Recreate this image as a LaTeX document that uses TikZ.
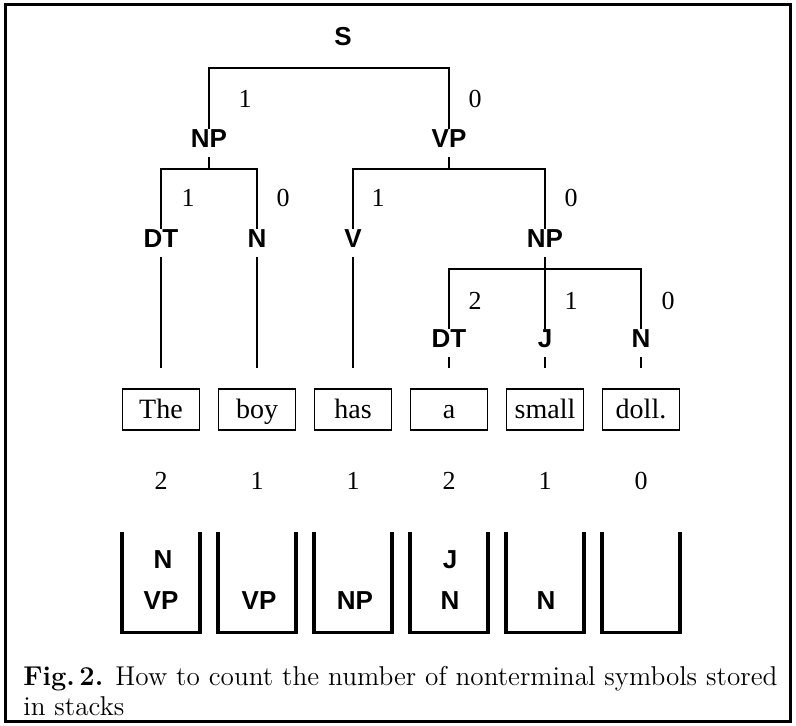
\documentclass[tikz,border=0pt]{standalone}
\usepackage{fontspec}
\newfontfamily\catfont{Liberation Sans}
\newfontfamily\wordfont{Liberation Serif}

\begin{document}
\begin{tikzpicture}[x=0.5pt,y=-0.5pt,
    cat/.style={font=\catfont\bfseries\fontsize{13}{15}\selectfont, inner sep=0pt, text height=9pt, text depth=5pt, anchor=base},
    cnt/.style={font=\wordfont\fontsize{13}{15}\selectfont, inner sep=0pt},
    word/.style={draw, line width=0.75pt, minimum width=38.5pt, minimum height=20.5pt, inner sep=0pt, text height=10.5pt, text depth=2pt, font=\wordfont\fontsize{14}{16}\selectfont},
    stack/.style={minimum width=38.5pt, minimum height=50pt, inner sep=0pt},
    branch/.style={line width=0.75pt},
    stk/.style={line width=1.75pt}]

    \useasboundingbox (0,0) rectangle (796,725);
    \draw[line width=1.5pt] (5,4) rectangle (790.5,721.5);

    \node[cat] (s) at (343,45) {S};
    \node[cat] (np1) at (209,147) {NP};
    \node[cat] (vp1) at (449,147) {VP};
    \node[cat] (dt1) at (161,247) {DT};
    \node[cat] (n1) at (257,247) {N};
    \node[cat] (v1) at (353,247) {V};
    \node[cat] (np2) at (545,247) {NP};
    \node[cat] (dt2) at (449,347) {DT};
    \node[cat] (j2) at (545,347) {J};
    \node[cat] (n2) at (641,347) {N};

    \coordinate (b1) at (330,68);
    \coordinate (b2) at (209,169);
    \coordinate (b3) at (449,169);
    \coordinate (b4) at (545,269);

    \draw[branch] (np1.north) |- (b1) -| (vp1.north);
    \draw[branch] (np1.south) -- (b2);
    \draw[branch] (dt1.north) |- (b2) -| (n1.north);
    \draw[branch] (vp1.south) -- (b3);
    \draw[branch] (v1.north) |- (b3) -| (np2.north);
    \draw[branch] (np2.south) -- (j2.north);
    \draw[branch] (dt2.north) |- (b4) -| (n2.north);

    \node[cnt] (k1) at (245,99) {1};
    \node[cnt] (k2) at (475,99) {0};
    \node[cnt] (k3) at (188,198) {1};
    \node[cnt] (k4) at (283,198) {0};
    \node[cnt] (k5) at (378,198) {1};
    \node[cnt] (k6) at (571,198) {0};
    \node[cnt] (k7) at (475,301) {2};
    \node[cnt] (k8) at (571,301) {1};
    \node[cnt] (k9) at (668,301) {0};

    \foreach \w/\x [count=\i] in {The/161,boy/257,has/353,a/449,small/545,doll./641}{
        \node[word] (w\i) at (\x,409.5) {\w};
    }

    \foreach \d/\x [count=\i] in {2/161,1/257,1/353,2/449,1/545,0/641}{
        \node[cnt] (c\i) at (\x,480.5) {\d};
    }

    \draw[branch, shorten >=10pt] (dt1.south) -- (w1.north);
    \draw[branch, shorten >=10pt] (n1.south) -- (w2.north);
    \draw[branch, shorten >=10pt] (v1.south) -- (w3.north);
    \draw[branch, shorten >=10pt] (dt2.south) -- (w4.north);
    \draw[branch, shorten >=10pt] (j2.south) -- (w5.north);
    \draw[branch, shorten >=10pt] (n2.south) -- (w6.north);

    \foreach \x [count=\i] in {161,257,353,449,545,641}{
        \node[stack] (st\i) at (\x,582) {};
        \draw[stk] (st\i.north west) |- (st\i.south east) -- (st\i.north east);
    }

    \node[cat] (sa1) at (163,568) {N};
    \node[cat] (sb1) at (161,609) {VP};
    \node[cat] (sb2) at (259,609) {VP};
    \node[cat] (sb3) at (355,609) {NP};
    \node[cat] (sa4) at (450,568) {J};
    \node[cat] (sb4) at (450,609) {N};
    \node[cat] (sb5) at (546,609) {N};

    \node[anchor=base west, inner sep=0pt, text width=377pt, align=justify,
          font=\fontsize{13.6}{15}\selectfont] (cap) at (23,685)
          {\textbf{Fig.\,2.} How to count the number of nonterminal symbols stored in stacks};

\end{tikzpicture}
\end{document}
